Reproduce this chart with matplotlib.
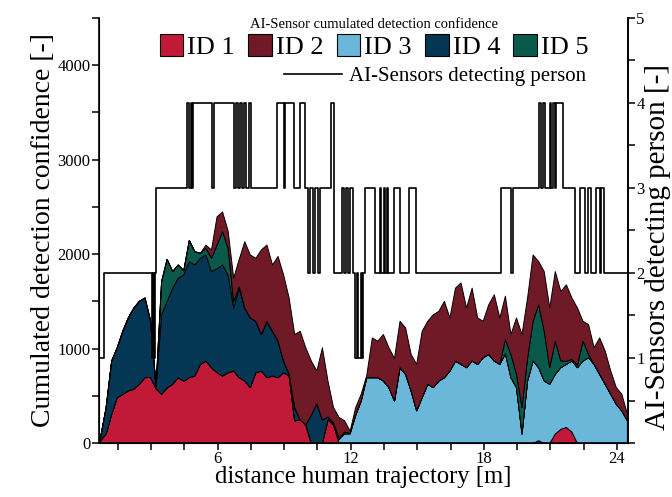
import matplotlib
matplotlib.use("Agg")
import matplotlib.pyplot as plt
import numpy as np
from matplotlib.patches import Patch
from matplotlib.lines import Line2D
from matplotlib.ticker import MultipleLocator

plt.rcParams['font.family'] = ['Liberation Serif', 'DejaVu Serif']

# distance along trajectory [m], sampled every 0.25 m
distance = np.linspace(0.70, 24.45, 96)

# detection confidence per ID
id1 = [30, 100, 310, 485, 520, 557, 575, 627, 697, 700, 580, 520,
       590, 627, 697, 660, 697, 715, 838, 873, 803, 750, 715, 750,
       767, 697, 662, 592, 750, 767, 697, 715, 697, 750, 715, 240,
       250, 200, 0, 0, 0, 250, 200, 0, 0, 0, 0, 0,
       0, 0, 0, 0, 0, 0, 0, 0, 0, 0, 0, 0,
       0, 0, 0, 0, 0, 0, 0, 0, 0, 0, 0, 0,
       0, 0, 0, 0, 0, 0, 0, 30, 0, 0, 100, 150,
       170, 120, 0, 0, 0, 0, 0, 0, 0, 0, 0, 0]
id2 = [0, 0, 0, 0, 0, 0, 0, 0, 0, 0, 0, 0,
       0, 0, 0, 0, 0, 0, 0, 34, 89, 300, 208, 184,
       250, 290, 702, 667, 667, 896, 807, 702, 897, 912, 808, 773,
       938, 813, 573, 348, 763, 382, 161, 216, 121, 20, 81, 70,
       23, 421, 386, 492, 421, 450, 491, 492, 386, 492, 702, 667,
       772, 737, 808, 562, 772, 862, 631, 772, 491, 386, 526, 702,
       491, 460, 211, 597, 773, 640, 702, 457, 631, 631, 737, 737,
       810, 650, 604, 211, 316, 175, 386, 351, 246, 176, 176, 70]
id3 = [0, 0, 0, 0, 0, 0, 0, 0, 0, 0, 0, 0,
       0, 0, 0, 0, 0, 0, 0, 0, 0, 0, 0, 0,
       0, 0, 0, 0, 0, 0, 0, 0, 0, 0, 0, 0,
       0, 0, 0, 0, 0, 0, 0, 40, 100, 100, 300, 452,
       697, 697, 697, 662, 592, 450, 803, 732, 557, 346, 487, 627,
       592, 662, 697, 767, 873, 838, 803, 873, 838, 908, 943, 873,
       838, 950, 697, 592, 100, 662, 873, 773, 662, 627, 632, 653,
       668, 753, 803, 873, 908, 838, 732, 627, 522, 416, 346, 241]
id4 = [35, 280, 563, 528, 668, 772, 859, 878, 843, 600, 20, 844,
       915, 1018, 1053, 1125, 1229, 1175, 1123, 1123, 1017, 1100, 1175, 1035,
       667, 948, 772, 737, 544, 387, 597, 473, 386, 123, 17, 141,
       0, 0, 300, 420, 250, 30, 20, 20, 20, 10, 0, 0,
       0, 0, 0, 0, 0, 0, 0, 0, 0, 0, 0, 0,
       0, 0, 0, 0, 0, 0, 0, 0, 0, 0, 0, 0,
       0, 0, 0, 0, 0, 0, 0, 0, 0, 0, 0, 0,
       0, 0, 0, 0, 0, 0, 0, 0, 0, 0, 0, 0]
id5 = [0, 0, 0, 0, 0, 0, 0, 0, 0, 0, 0, 351,
       445, 175, 140, 45, 224, 141, 52, 70, 141, 250, 352, 281,
       66, 15, 0, 0, 0, 0, 0, 0, 0, 0, 0, 0,
       0, 0, 0, 0, 0, 0, 0, 0, 0, 0, 0, 0,
       0, 0, 0, 0, 0, 0, 0, 0, 0, 0, 0, 0,
       0, 0, 0, 0, 0, 0, 0, 0, 0, 0, 0, 0,
       0, 150, 246, 140, 281, 238, 421, 666, 527, 176, 351, 70,
       32, 17, 27, 210, 35, 0, 0, 0, 0, 0, 0, 0]

# number of AI-sensors detecting the person (step changes)
step_x = [0.70, 0.86, 3.02, 3.08, 3.13, 3.18, 3.24,
          4.64, 4.71, 4.78, 4.84, 4.90, 5.76, 5.84,
          6.74, 6.81, 6.93, 6.99, 7.08, 7.19, 7.29, 7.41, 7.49,
          8.69, 9.00, 9.05, 9.43, 9.73, 9.96,
          10.08, 10.18, 10.29, 10.41, 10.53, 10.60, 11.13, 11.23,
          11.61, 11.70, 11.79, 11.88, 11.98, 12.09,
          12.20, 12.28, 12.33, 12.45, 12.50, 12.57, 12.63,
          13.10, 13.30, 13.36, 13.50, 13.55, 13.62, 13.70, 13.95, 14.20, 14.62, 14.95,
          18.77, 19.22, 19.32,
          20.49, 20.56, 20.67, 20.74, 20.97, 21.04, 21.12, 21.19, 21.27, 21.57,
          22.12, 22.35, 22.54, 22.69, 22.81, 23.04, 23.22, 23.29, 23.41, 24.50]
sensors = [1, 2, 1, 2, 1, 2, 3,
           4, 3, 4, 3, 4, 3, 4,
           3, 4, 3, 4, 3, 4, 3, 4, 3,
           4, 3, 4, 3, 4, 3,
           2, 3, 2, 3, 2, 3, 4, 2,
           3, 2, 3, 2, 3, 2,
           1, 2, 1, 2, 1, 2, 3,
           2, 3, 2, 3, 2, 3, 2, 3, 2, 3, 2,
           3, 2, 3,
           4, 3, 4, 3, 4, 3, 4, 3, 4, 3,
           2, 3, 2, 3, 2, 3, 2, 3, 2, 2]

labels = ['ID 1', 'ID 2', 'ID 3', 'ID 4', 'ID 5']
colors = {'ID 1': '#C11A38', 'ID 2': '#701A28', 'ID 3': '#6AB7DA',
          'ID 4': '#053755', 'ID 5': '#0A5A4B'}

fig = plt.figure(figsize=(6.72, 4.97), dpi=100)
ax = fig.add_axes([99/672, 54/497, 529/672, 425/497])

# stacking order as in the original: ID1, ID3, ID4, ID5, ID2
ax.stackplot(distance, id1, id3, id4, id5, id2,
             colors=[colors['ID 1'], colors['ID 3'], colors['ID 4'], colors['ID 5'], colors['ID 2']],
             edgecolor='black', linewidth=0.7)

ax.set_xlim(0.65, 24.5)
ax.set_ylim(0, 4500)
ax.set_xticks([6, 12, 18, 24])
ax.xaxis.set_minor_locator(MultipleLocator(1.5))
ax.yaxis.set_major_locator(MultipleLocator(1000))
ax.yaxis.set_minor_locator(MultipleLocator(500))
ax.tick_params(which='both', length=5, width=1.1, labelsize=12, pad=1)
ax.spines['top'].set_visible(False)
for s in ['left', 'bottom', 'right']:
    ax.spines[s].set_linewidth(1.2)
ax.set_xlabel('distance human trajectory [m]', fontsize=17.7, labelpad=-1)
ax.set_ylabel('Cumulated detection confidence [-]', fontsize=20, labelpad=1)

ax2 = ax.twinx()
ax2.step(step_x, sensors, where='post', color='black', linewidth=1.2)
ax2.set_ylim(0, 5)
ax2.set_yticks([1, 2, 3, 4, 5])
ax2.yaxis.set_minor_locator(MultipleLocator(0.5))
ax2.tick_params(which='both', length=5, width=1.1, labelsize=12, pad=1)
ax2.spines['top'].set_visible(False)
ax2.spines['right'].set_linewidth(1.2)
ax2.set_ylabel('AI-Sensors detecting person [-]', fontsize=21, labelpad=1)
ax2.yaxis.set_label_coords(1.033, 0.46)

patches = [Patch(facecolor=colors[l], edgecolor='black', linewidth=0.8) for l in labels]
leg1 = ax2.legend(patches, labels, ncol=5, loc='upper center', bbox_to_anchor=(0.52, 1.0),
                  title='AI-Sensor cumulated detection confidence', title_fontsize=10.5,
                  fontsize=19, frameon=False, handlelength=0.9, handleheight=0.9,
                  handletextpad=0.15, columnspacing=0.5, borderpad=0, borderaxespad=0,
                  labelspacing=0.1)
ax2.add_artist(leg1)
ax2.legend([Line2D([], [], color='black', linewidth=1.2)], ['AI-Sensors detecting person'],
           loc='upper right', bbox_to_anchor=(0.92, 0.885), fontsize=15, frameon=False,
           handlelength=2.8, handletextpad=0.3, borderpad=0, borderaxespad=0)

fig.savefig('out.png', dpi=100)
